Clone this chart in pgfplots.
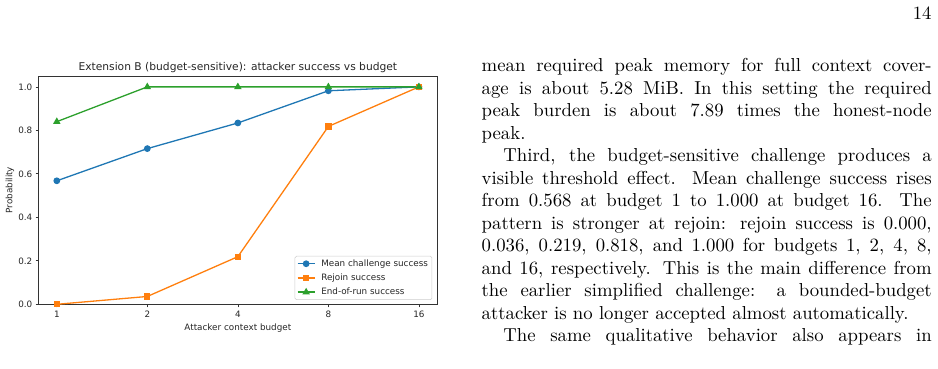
\documentclass[border=0pt]{standalone}
\usepackage{pgfplots}
\pgfplotsset{compat=1.18}
\usepackage{fontspec}
\usepackage{graphicx}
\newfontfamily\chartfont{DejaVu Sans}
\definecolor{cA}{HTML}{1F77B4}
\definecolor{cB}{HTML}{FF7F0E}
\definecolor{cC}{HTML}{2CA02C}
\newcommand\cf{\chartfont\fontsize{8.8}{10.5}\selectfont}
\newcommand\lf{\chartfont\fontsize{8.8}{10.5}\selectfont}
\begin{document}
\begin{tikzpicture}[x=1pt,y=1pt]
\path[use as bounding box] (0,0) rectangle (938,369);
\begin{axis}[
  at={(38.7pt,64.7pt)}, anchor=south west,
  scale only axis, width=398.3pt, height=228.3pt,
  xmode=log, log basis x=2,
  xmin=0.8706, xmax=18.379, ymin=0, ymax=1.05,
  xtick={1,2,4,8,16}, xticklabels={1,2,4,8,16},
  ytick={0,0.2,0.4,0.6,0.8,1.0},
  yticklabels={0.0,0.2,0.4,0.6,0.8,1.0},
  tick align=outside, tick pos=left, major tick length=3.1pt,
  tick style={black!80, line width=0.7pt},
  axis line style={black!80, line width=0.7pt},
  ticklabel style={font=\cf, text=black!85},
  yticklabel style={anchor=east, inner sep=0pt, xshift=-3.1pt},
  xticklabel style={anchor=north, inner sep=0pt, yshift=-3.1pt},
  every axis title shift=0pt,
  title={Extension B (budget-sensitive): attacker success vs budget},
  title style={font=\chartfont\fontsize{10.7}{12.8}\selectfont, text=black!85, at={(axis description cs:0.5,1)}, anchor=base, yshift=5.4pt},
  xlabel={Attacker context budget},
  xlabel style={font=\cf, text=black!85, at={(axis description cs:0.5,0)}, anchor=base, yshift=-26.3pt},
  ylabel={Probability},
  ylabel style={font=\cf, text=black!85, at={(axis description cs:-0.072,0.5)}, anchor=center},
  legend style={at={(axis description cs:0.988,0.019)}, anchor=south east,
    draw=black!20, rounded corners=1.5pt, fill=white, font=\lf, text=black!85,
    inner xsep=2pt, inner ysep=1.5pt, row sep=2pt, line width=0.5pt,
    /tikz/every odd column/.append style={column sep=4pt}},
  legend cell align=left,
  legend image code/.code={\draw[mark repeat=2, mark phase=2] plot coordinates {(0pt,0pt) (8.5pt,0pt) (17pt,0pt)};},
  every axis plot/.append style={line width=1.3pt},
  clip=false,
]
\addplot[cA, mark=*, mark size=2.7pt] coordinates {(1,0.568) (2,0.716) (4,0.834) (8,0.982) (16,1.000)};
\addlegendentry{Mean challenge success}
\addplot[cB, mark=square*, mark size=2.5pt] coordinates {(1,0.000) (2,0.036) (4,0.219) (8,0.818) (16,1.000)};
\addlegendentry{Rejoin success}
\addplot[cC, mark=triangle*, mark size=3.0pt] coordinates {(1,0.840) (2,1.000) (4,1.000) (8,1.000) (16,1.000)};
\addlegendentry{End-of-run success}
\end{axis}
\node[anchor=base east, inner sep=0pt] at (931.7,349) {\scalebox{1.875}{\fontsize{10}{12}\selectfont 14}};
\node[anchor=base west, inner sep=0pt] at (481.5,297.3) {\scalebox{1.875}{\parbox[t]{240pt}{\fontsize{10}{12}\selectfont
\tolerance=10000 \parindent=11.6pt \parskip=0pt
\noindent mean required peak memory for full context cover-\linebreak age is about 5.28 MiB. In this setting the required\linebreak peak burden is about 7.89 times the honest-node\linebreak peak.\par
Third, the budget-sensitive challenge produces a\linebreak visible threshold effect. Mean challenge success rises\linebreak from 0.568 at budget 1 to 1.000 at budget 16. The\linebreak pattern is stronger at rejoin: rejoin success is 0.000,\linebreak 0.036, 0.219, 0.818, and 1.000 for budgets 1, 2, 4, 8,\linebreak and 16, respectively. This is the main difference from\linebreak the earlier simplified challenge: a bounded-budget\linebreak attacker is no longer accepted almost automatically.\par
{\parfillskip=0pt The same qualitative behavior also appears in\par}}}};
\end{tikzpicture}
\end{document}
